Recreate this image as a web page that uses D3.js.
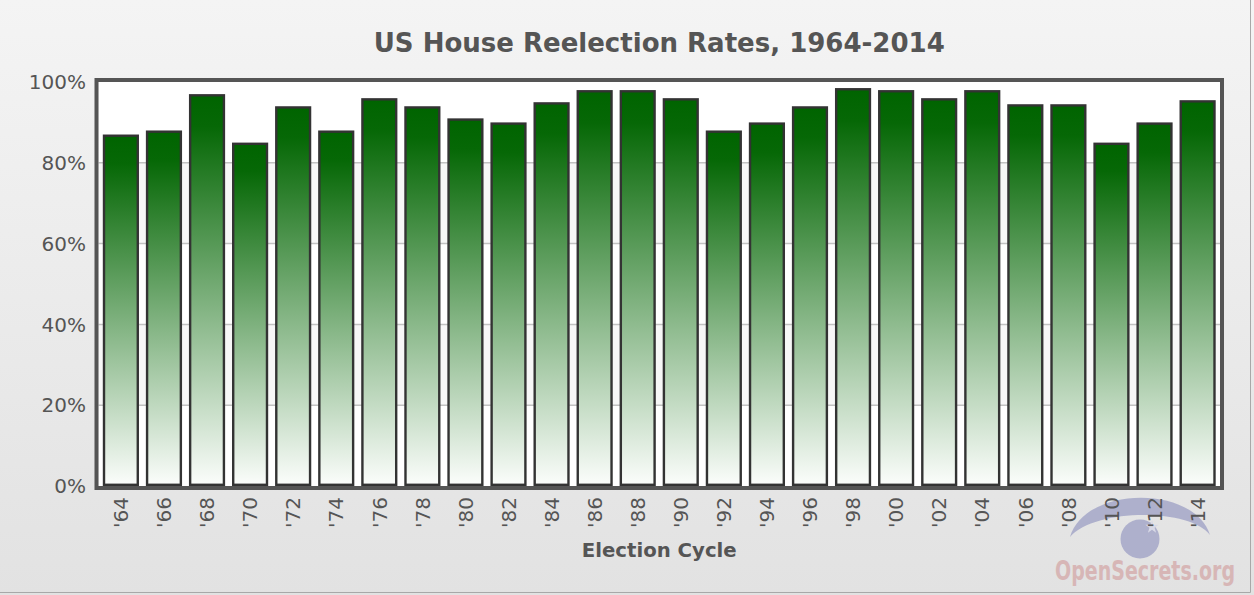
<!DOCTYPE html>
<html>
<head>
<meta charset="utf-8">
<script src="https://cdn.jsdelivr.net/npm/d3@7/dist/d3.min.js"></script>
<style>
  html, body { margin: 0; padding: 0; background: #fff; }
  svg { display: block; font-family: "DejaVu Sans", Verdana, sans-serif; }
</style>
</head>
<body>
<div id="chart"></div>
<script>
// election cycles and house reelection rates (%)
const cycles = ["'64", "'66", "'68", "'70", "'72", "'74", "'76", "'78", "'80", "'82", "'84", "'86", "'88",
                "'90", "'92", "'94", "'96", "'98", "'00", "'02", "'04", "'06", "'08", "'10", "'12", "'14"];
const rates = [87, 88, 97, 85, 94, 88, 96, 94, 91, 90, 95, 98, 98,
               96, 88, 90, 94, 98.5, 98, 96, 98, 94.5, 94.5, 85, 90, 95.5];
const yTicks = [0, 20, 40, 60, 80, 100];

const W = 1254, H = 595;
const plot = { left: 98.5, right: 1220, top: 82, bottom: 486 };

const svg = d3.select("#chart").append("svg")
  .attr("width", W)
  .attr("height", H);

const defs = svg.append("defs");

const bg = defs.append("linearGradient")
  .attr("id", "bg-grad")
  .attr("x1", 0).attr("y1", 0).attr("x2", 0).attr("y2", 1);
bg.append("stop").attr("offset", "0%").attr("stop-color", "#f4f4f4");
bg.append("stop").attr("offset", "100%").attr("stop-color", "#e2e2e2");

const barGrad = defs.append("linearGradient")
  .attr("id", "bar-grad")
  .attr("x1", 0).attr("y1", 0).attr("x2", 0).attr("y2", 1);
barGrad.append("stop").attr("offset", "0%").attr("stop-color", "#006400");
barGrad.append("stop").attr("offset", "8%").attr("stop-color", "#066806");
barGrad.append("stop").attr("offset", "100%").attr("stop-color", "#fbfdfb");

// background + outer border
svg.append("rect")
  .attr("width", W).attr("height", H)
  .attr("fill", "url(#bg-grad)");
svg.append("path")
  .attr("d", `M${W - 3.5},0 V${H - 2.5} H0`)
  .attr("fill", "none")
  .attr("stroke", "#a8a8a8")
  .attr("stroke-width", 1);

const x = d3.scaleBand()
  .domain(cycles)
  .range([plot.left, plot.right])
  .paddingInner(0.16)
  .paddingOuter(0.1);

const y = d3.scaleLinear()
  .domain([0, 100])
  .range([plot.bottom, plot.top]);

// watermark (drawn under the labels)
const wm = svg.append("g").attr("class", "watermark");
wm.append("path")
  .attr("d", "M1070,537 C1085,485 1195,485 1210,535 C1190,508 1095,508 1070,537 Z")
  .attr("fill", "#a4a7c8")
  .attr("opacity", 0.85);
wm.append("circle")
  .attr("cx", 1140).attr("cy", 539).attr("r", 19.5)
  .attr("fill", "#a4a7c8")
  .attr("opacity", 0.85);
wm.append("path")
  .attr("d", d3.symbol(d3.symbolStar, 55)())
  .attr("transform", "translate(1152,527)")
  .attr("fill", "#d8d9e6");
const wmText = wm.append("text")
  .attr("x", 1145).attr("y", 580)
  .attr("text-anchor", "middle")
  .attr("font-family", "'DejaVu Sans Condensed', 'Liberation Sans Narrow', sans-serif")
  .attr("font-weight", "bold")
  .attr("font-size", 27)
  .attr("fill", "#d6b2b2")
  .attr("opacity", 0.9)
  .text("OpenSecrets.org");

// plot background bands
const bands = yTicks.slice(0, -1).map((t, i) => ({ lo: t, hi: yTicks[i + 1], i: i }));
svg.append("g")
  .selectAll("rect")
  .data(bands)
  .enter()
  .append("rect")
  .attr("x", plot.left)
  .attr("width", plot.right - plot.left)
  .attr("y", d => y(d.hi))
  .attr("height", d => y(d.lo) - y(d.hi))
  .attr("fill", d => d.i % 2 === 1 ? "#f7f7f7" : "#ffffff");

// grid lines
svg.append("g")
  .selectAll("line")
  .data(yTicks.slice(1, -1))
  .enter()
  .append("line")
  .attr("x1", plot.left).attr("x2", plot.right)
  .attr("y1", d => y(d)).attr("y2", d => y(d))
  .attr("stroke", "#c2c2c2")
  .attr("stroke-width", 1.5);

// bars
const sw = 2.4;
svg.append("g")
  .selectAll("rect")
  .data(rates)
  .enter()
  .append("rect")
  .attr("x", (d, i) => x(cycles[i]) + sw / 2)
  .attr("width", x.bandwidth() - sw)
  .attr("y", d => y(d) + sw / 2)
  .attr("height", d => y(0) - y(d) - sw)
  .attr("fill", "url(#bar-grad)")
  .attr("stroke", "#333333")
  .attr("stroke-width", sw);

// frame
svg.append("rect")
  .attr("x", plot.left - 2)
  .attr("y", plot.top - 2)
  .attr("width", plot.right - plot.left + 4)
  .attr("height", plot.bottom - plot.top + 4)
  .attr("fill", "none")
  .attr("stroke", "#555555")
  .attr("stroke-width", 4);

// y labels
svg.append("g")
  .selectAll("text")
  .data(yTicks)
  .enter()
  .append("text")
  .attr("x", 86)
  .attr("y", d => y(d))
  .attr("dy", "0.36em")
  .attr("text-anchor", "end")
  .attr("font-size", 20)
  .attr("fill", "#555555")
  .text(d => d + "%");

// x labels
svg.append("g")
  .selectAll("text")
  .data(cycles)
  .enter()
  .append("text")
  .attr("transform", d => `translate(${x(d) + x.bandwidth() / 2},497) rotate(-90)`)
  .attr("dy", "0.36em")
  .attr("text-anchor", "end")
  .attr("font-size", 20)
  .attr("fill", "#555555")
  .text(d => d);

// title
const title = svg.append("text")
  .attr("x", (plot.left + plot.right) / 2)
  .attr("y", 52)
  .attr("text-anchor", "middle")
  .attr("font-weight", "bold")
  .attr("font-size", 27)
  .attr("fill", "#555555")
  .text("US House Reelection Rates, 1964-2014");

const xTitle = svg.append("text")
  .attr("x", (plot.left + plot.right) / 2)
  .attr("y", 557)
  .attr("text-anchor", "middle")
  .attr("font-weight", "bold")
  .attr("font-size", 20)
  .attr("fill", "#555555")
  .text("Election Cycle");

// squeeze bold texts to the widths seen in the reference
function fitWidth(sel, target) {
  const w = sel.node().getComputedTextLength();
  if (w > target) {
    sel.attr("textLength", target).attr("lengthAdjust", "spacingAndGlyphs");
  }
}
fitWidth(title, 571);
fitWidth(xTitle, 155);
fitWidth(wmText, 180);
</script>
</body>
</html>
